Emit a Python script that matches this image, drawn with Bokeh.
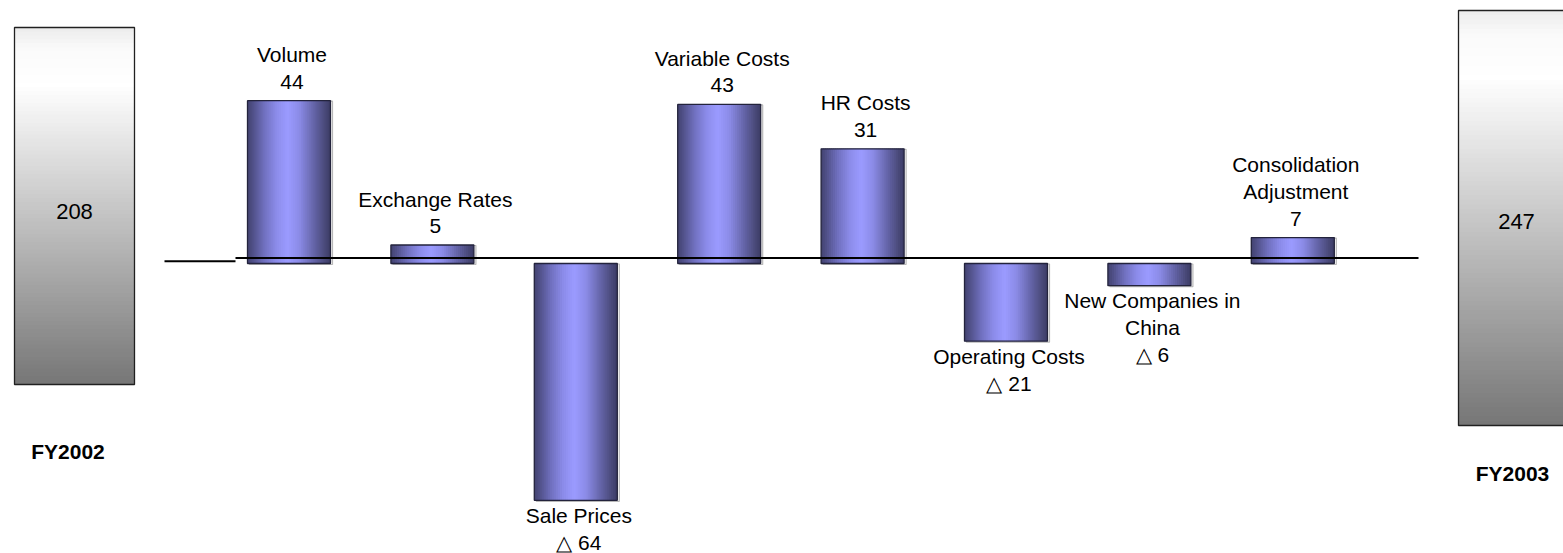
import numpy as np
from bokeh.plotting import figure
from bokeh.models import ColumnDataSource, Range1d
from bokeh.core.properties import value
from bokeh.embed import file_html
from bokeh.resources import INLINE

# ---------------- data ----------------
categories = ["Volume", "Exchange Rates", "Sale Prices", "Variable Costs", "HR Costs",
              "Operating Costs", "New Companies in\nChina", "Consolidation\nAdjustment"]
changes = [44, 5, -64, 43, 31, -21, -6, 7]
start_label, start_value = "FY2002", 208
end_label, end_value = "FY2003", 247

# ---------------- layout / style ----------------
W, H = 1563, 553
PX_PER_UNIT = 3.7
ZERO_PX = 263
X0, STEP, BAR_W = 288.5, 143.4, 83
LINE_H = 27
TXT_SHIFT = -9
FONT = "Liberation Sans"

p = figure(width=W, height=H, x_range=Range1d(0, W),
           y_range=Range1d(-(H - ZERO_PX) / PX_PER_UNIT, ZERO_PX / PX_PER_UNIT),
           x_axis_type=None, y_axis_type=None,
           output_backend="svg", toolbar_location=None, min_border=0)
p.outline_line_color = None
p.grid.visible = False
p.extra_y_ranges = {"px": Range1d(H, 0)}


def interp(stops, t):
    ts = [s[0] for s in stops]
    rgb = [np.interp(t, ts, [s[1][c] for s in stops]) for c in range(3)]
    return "#%02x%02x%02x" % tuple(int(round(v)) for v in rgb)


bar_stops = [(0.0, (66, 66, 112)), (0.08, (84, 84, 142)), (0.2, (112, 112, 190)),
             (0.35, (140, 140, 234)), (0.48, (155, 155, 255)), (0.62, (140, 140, 232)),
             (0.78, (105, 105, 175)), (0.92, (76, 76, 126)), (1.0, (60, 60, 100))]
box_stops = [(0.0, (236, 236, 236)), (0.06, (250, 250, 250)), (0.16, (255, 255, 255)),
             (1.0, (118, 118, 118))]

# ---------------- bars (gradient slices) ----------------
N = 42
sl = dict(left=[], right=[], top=[], bottom=[], color=[])
ol = dict(left=[], right=[], top=[], bottom=[])
sh = dict(left=[], right=[], top=[], bottom=[])
for i, v in enumerate(changes):
    cx = X0 + STEP * i
    l, r = cx - BAR_W / 2, cx + BAR_W / 2
    b, t = min(0, v), max(0, v)
    for j in range(N):
        sl["left"].append(l + (r - l) * j / N)
        sl["right"].append(min(r, l + (r - l) * (j + 1) / N + 1.0))
        sl["top"].append(t)
        sl["bottom"].append(b)
        sl["color"].append(interp(bar_stops, (j + 0.5) / N))
    ol["left"].append(l); ol["right"].append(r); ol["top"].append(t); ol["bottom"].append(b)
    d = 1 / PX_PER_UNIT
    sh["left"].append(l + 2); sh["right"].append(r + 2)
    sh["top"].append(t - d * 0.5); sh["bottom"].append(b - d)

p.quad(left="left", right="right", top="top", bottom="bottom", source=ColumnDataSource(sh),
       fill_color=None, line_color="#b8b8b8", line_width=1.2)
p.quad(left="left", right="right", top="top", bottom="bottom", source=ColumnDataSource(sl),
       fill_color="color", line_color=None)
p.quad(left="left", right="right", top="top", bottom="bottom", source=ColumnDataSource(ol),
       fill_color=None, line_color="#23233c", line_width=1.3)

# ---------------- baseline ----------------
p.line(x=[164, 235], y=[260.7, 260.7], y_range_name="px", line_color="black", line_width=2)
p.line(x=[235, 1418], y=[257.5, 257.5], y_range_name="px", line_color="black", line_width=2)

# ---------------- bar labels ----------------
lx, ly, lt = [], [], []
for i, (name, v) in enumerate(zip(categories, changes)):
    cx = X0 + STEP * i + 3
    lines = name.split("\n")
    if v >= 0:
        lines = lines + [str(v)]
        top_px = ZERO_PX - v * PX_PER_UNIT
        base = top_px - 10 + TXT_SHIFT
        for k, s in enumerate(reversed(lines)):
            lx.append(cx); ly.append(base - k * LINE_H); lt.append(s)
    else:
        lines = lines + ["\u25b3 " + str(abs(v))]
        bot_px = ZERO_PX - v * PX_PER_UNIT
        base = bot_px + 24 + TXT_SHIFT
        for k, s in enumerate(lines):
            lx.append(cx); ly.append(base + k * LINE_H); lt.append(s)

p.text(x="x", y="y", text="t", source=ColumnDataSource(dict(x=lx, y=ly, t=lt)),
       y_range_name="px", text_align="center", text_baseline="alphabetic",
       text_font=value(FONT), text_font_size="21px", text_color="black")

# ---------------- start / end boxes ----------------
boxes = [(14, 134, 27, 384), (1458, 1578, 10, 425)]
NB = 90
bs = dict(left=[], right=[], top=[], bottom=[], color=[])
for (l, r, t, b) in boxes:
    for j in range(NB):
        bs["left"].append(l); bs["right"].append(r)
        bs["top"].append(t + (b - t) * j / NB)
        bs["bottom"].append(min(b, t + (b - t) * (j + 1) / NB + 1.0))
        bs["color"].append(interp(box_stops, (j + 0.5) / NB))
p.quad(left="left", right="right", top="top", bottom="bottom", source=ColumnDataSource(bs),
       fill_color="color", line_color=None, y_range_name="px")
p.quad(left=[b[0] for b in boxes], right=[b[1] for b in boxes],
       top=[b[2] for b in boxes], bottom=[b[3] for b in boxes],
       fill_color=None, line_color="#202020", line_width=1.3, y_range_name="px")

p.text(x=[74, 1516], y=[211, 221], text=[str(start_value), str(end_value)],
       y_range_name="px", text_align="center", text_baseline="middle",
       text_font=value(FONT), text_font_size="22px", text_color="black")
p.text(x=[67.5, 1512], y=[451, 472.5], text=[start_label, end_label],
       y_range_name="px", text_align="center", text_baseline="middle",
       text_font=value(FONT), text_font_size="21px",
       text_font_style="bold", text_color="black")

open("out.html", "w").write(file_html(p, INLINE))
